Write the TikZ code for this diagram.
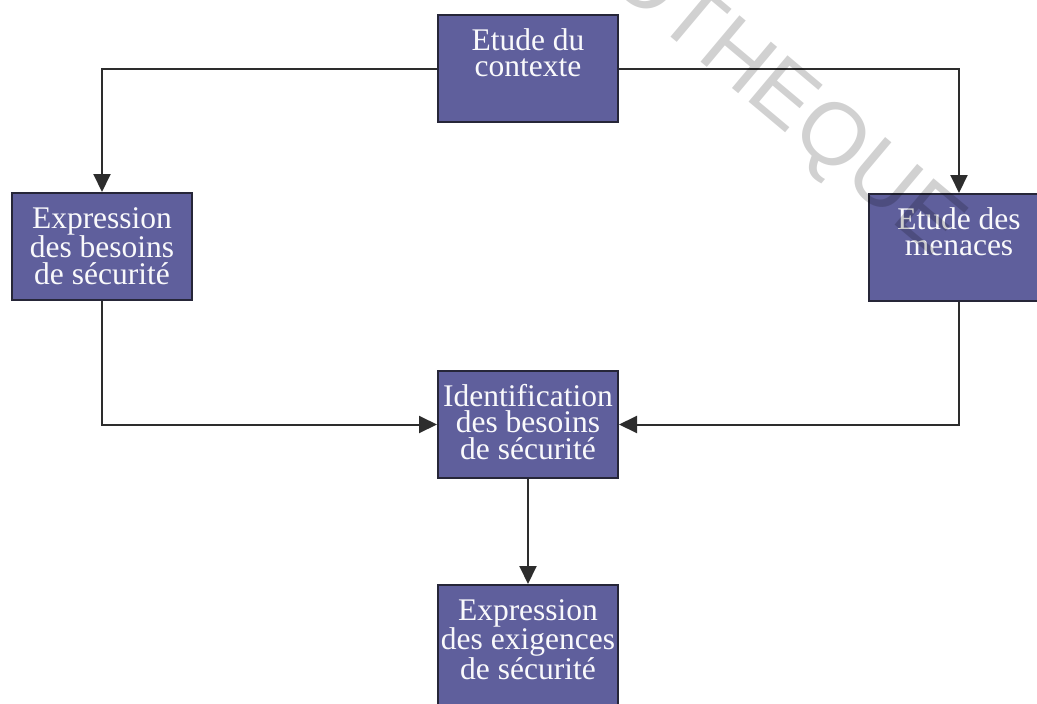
\documentclass[tikz,border=0pt]{standalone}
\usepackage{fontspec}
\setmainfont{Liberation Serif}
\newfontfamily\markfont{Liberation Sans}
\usetikzlibrary{arrows.meta}
\definecolor{boxfill}{RGB}{95,95,156}
\definecolor{boxedge}{RGB}{38,38,56}
\definecolor{wire}{RGB}{45,45,45}
% box label: lines set from the top of the box, first baseline 35pt down
\newcommand\boxlabel[2][107pt]{\parbox[c][#1][t]{180pt}{\centering
  \fontsize{31.5}{26.5}\selectfont\rule{0pt}{35pt}#2}}
\begin{document}
\begin{tikzpicture}[x=1pt,y=-1pt,
  stepbox/.style={draw=boxedge, line width=2pt, fill=boxfill, inner sep=0pt,
    text=white!96!boxfill},
  link/.style={draw=wire, line width=2pt, -{Triangle[length=18pt,width=17pt]}},
  wm/.style={text=black, opacity=0.18, inner sep=0pt,
    font=\markfont\fontsize{88}{88}\selectfont}]
\useasboundingbox (0,0) rectangle (1037,704);
\clip (0,0) rectangle (1037,704);

% process boxes
\node[stepbox] (ctx)  at (528,68.5)  {\boxlabel{Etude du\\contexte}};
\node[stepbox] (need) at (102,246.5) {\boxlabel{Expression\\des besoins\\de sécurité}};
\node[stepbox] (thr)  at (959,247.5) {\boxlabel{Etude des\\menaces}};
\node[stepbox] (idf)  at (528,424.5) {\boxlabel{Identification\\des besoins\\de sécurité}};
\node[stepbox] (req)  at (528,650)   {\boxlabel[130pt]{Expression\\des exigences\\de sécurité}};

% connectors
\draw[link] (ctx.west) -| (need.north);
\draw[link] (ctx.east) -| (thr.north);
\draw[link] (need.south) |- (idf.west);
\draw[link] (thr.south) |- (idf.east);
\draw[link] (idf.south) -- (req.north);

% watermark
\node[wm, rotate=-40] (mark) at (700,32) {BIBLIOTHEQUE};
\end{tikzpicture}
\end{document}
